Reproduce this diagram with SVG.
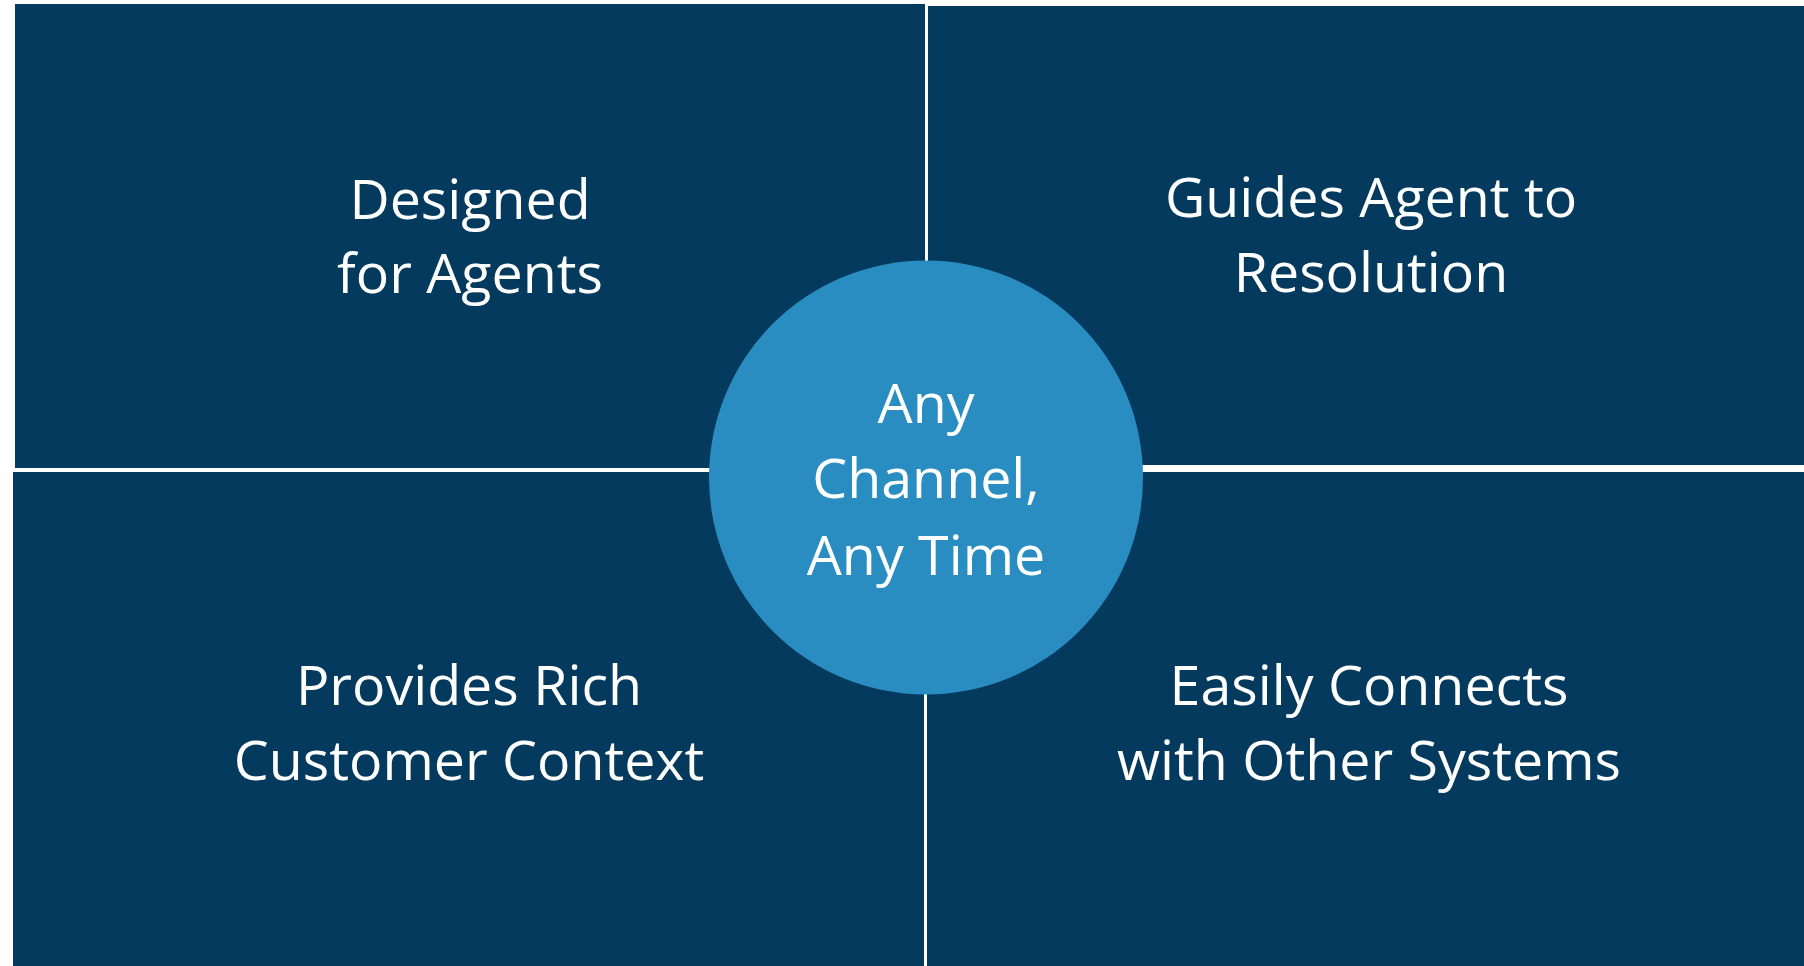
<svg xmlns="http://www.w3.org/2000/svg" width="1804" height="966" viewBox="0 0 1804 966">
  <style>
    .tile { fill: #033a5d; }
    .hub { fill: #2a8dc2; }
    .label { fill: #ffffff; font-family: "Open Sans", "Noto Sans", "Liberation Sans", sans-serif; font-size: 55.5px; text-anchor: middle; }
  </style>
  <rect width="1804" height="966" fill="#ffffff"/>

  <!-- four quadrant tiles -->
  <g id="designed-for-agents">
    <rect class="tile" x="15" y="4" width="910" height="464"/>
    <text class="label" x="470" y="219">Designed</text>
    <text class="label" x="470" y="293">for Agents</text>
  </g>
  <g id="guides-agent">
    <rect class="tile" x="928" y="6" width="876" height="459"/>
    <text class="label" x="1371" y="217">Guides Agent to</text>
    <text class="label" x="1371" y="292">Resolution</text>
  </g>
  <g id="rich-context">
    <rect class="tile" x="13" y="472" width="911" height="494"/>
    <text class="label" x="469" y="705">Provides Rich</text>
    <text class="label" x="469" y="780">Customer Context</text>
  </g>
  <g id="connects-systems">
    <rect class="tile" x="927" y="472" width="877" height="494"/>
    <text class="label" x="1369" y="705">Easily Connects</text>
    <text class="label" x="1369" y="780">with Other Systems</text>
  </g>

  <!-- central hub -->
  <g id="any-channel">
    <circle class="hub" cx="926" cy="477.5" r="217"/>
    <text class="label" x="926" y="423">Any</text>
    <text class="label" x="926" y="498">Channel,</text>
    <text class="label" x="926" y="575">Any Time</text>
  </g>

  <g id="connectors"></g>
</svg>
